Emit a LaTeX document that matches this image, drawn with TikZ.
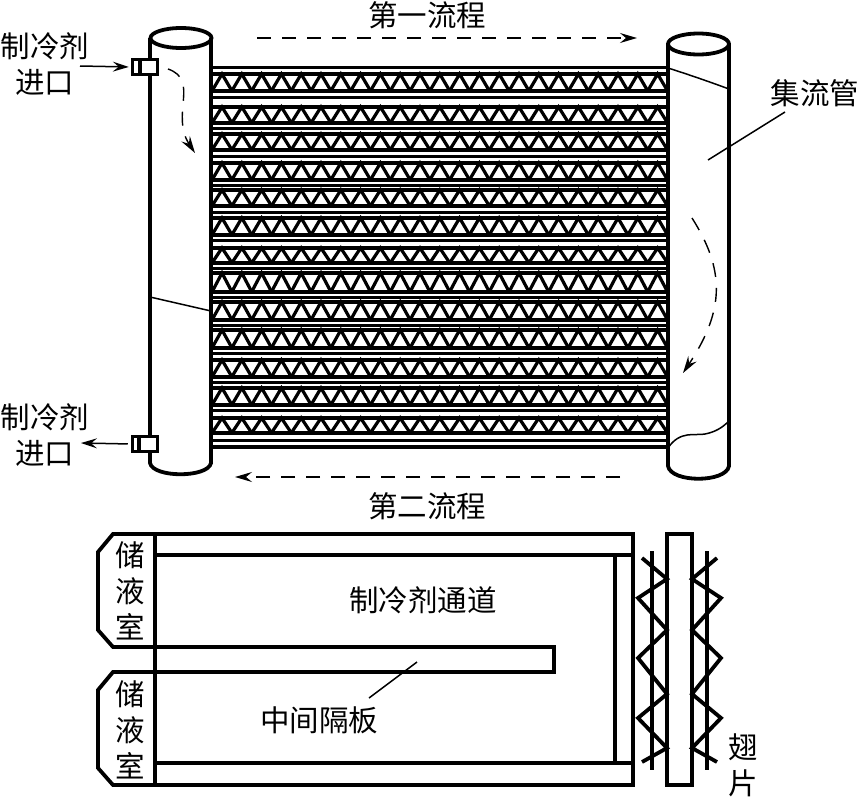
\documentclass[tikz,border=0pt]{standalone}
\usepackage{fontspec}
\setmainfont{Noto Sans CJK SC}
\usepackage{tikz}
\usetikzlibrary{arrows.meta,positioning,calc}

\begin{document}
\begin{tikzpicture}[x=1pt,y=-1pt,
    every node/.style={font=\fontsize{29.5}{36}\selectfont,align=center,inner sep=0pt},
    wall/.style={line width=3.8pt},
    tube/.style={line width=4.4pt},
    thinline/.style={line width=1.5pt},
    flow/.style={line width=1.4pt,dash pattern=on 14pt off 11pt,-{Stealth[length=17pt,width=10pt,inset=6pt]}},
    lead/.style={line width=1.5pt,-{Stealth[length=16pt,width=10pt,inset=6pt]}},
    clip/.style={draw,line width=3.5pt,fill=white,minimum width=25pt,minimum height=15pt}]
    \useasboundingbox (0,0) rectangle (859,798);
    \foreach \ftop/\fbot/\fline in {74/91/97,107/123/128,134/150/156,163/180/185,190/206/212,218/235/240,248/263/268,273/292/297,302/320/325,330/348/353,360/377/382,388/405/410,418/433/440}{
      \draw[tube] (211,\ftop)--(668,\ftop);
      \draw[tube] (211,\fbot)--(668,\fbot);
      \draw[line width=3pt] (211,\fline)--(668,\fline);
      \foreach \k in {0,...,22}{
        \draw[line width=3.2pt,line join=miter] ({212+19.8*\k},\fbot)--({222+19.8*\k},\ftop)--({232+19.8*\k},\fbot);
      }
    }
    \draw[line width=3pt] (211,67)--(668,67);
    \draw[tube] (211,447)--(668,447);
    \draw[wall] (150,38)--(150,463) .. controls (153,478) and (208,478) .. (211,463)--(211,38);
    \draw[wall] (181,38) ellipse [x radius=30.5pt,y radius=10pt];
    \draw[wall] (668,44)--(668,466) .. controls (671,483) and (726,483) .. (729,466)--(729,44);
    \draw[wall] (698.5,44) ellipse [x radius=30.5pt,y radius=10.5pt];
    \draw[thinline] (150,297)--(211,311);
    \draw[thinline] (668,68) .. controls (690,75) and (710,82) .. (729,89);
    \draw[thinline] (668,448) .. controls (680,430) and (695,436) .. (705,434) .. controls (715,432) and (722,428) .. (729,421);
    \node[clip] (clipIn) at (145,67) {};
    \node[clip] (clipOut) at (145,444) {};
    \draw[line width=3.5pt] (140,58)--(140,76);
    \draw[line width=3.5pt] (139,435)--(139,453);
    \node (labelIn) at (45,64) {制冷剂\\进口};
    \node (labelOut) at (45,435) {制冷剂\\进口};
    \coordinate (inFrom) at (80,66);
    \coordinate (outTo) at (81,443);
    \draw[lead,shorten >=2pt] (inFrom)--(clipIn.west);
    \draw[lead,shorten <=3pt] (clipOut.west)--(outTo);
    \node (passOne) at (427,15) {第一流程};
    \node (passTwo) at (427,506) {第二流程};
    \coordinate (passOneA) at (257,38);
    \coordinate (passOneB) at (637,38);
    \coordinate (passTwoA) at (620,477);
    \coordinate (passTwoB) at (235,477);
    \draw[flow] (passOneA)--(passOneB);
    \draw[flow] (passTwoA)--(passTwoB);
    \coordinate (turnA) at (168,69);
    \coordinate (turnB) at (195,153);
    \coordinate (turnC) at (692,218);
    \coordinate (turnD) at (683,373);
    \draw[flow] (turnA) .. controls (200,80) and (170,115) .. (turnB);
    \draw[flow] (turnC) .. controls (725,270) and (725,310) .. (turnD);
    \node (header) at (815,93) {集流管};
    \coordinate (headerTip) at (708,160);
    \draw[thinline] (785,112)--(headerTip);
    \draw[wall] (155,534)--(633,534)--(633,785)--(113,785)--(98,768)--(98,690)--(113,672)--(155,672);
    \draw[wall] (155,534)--(113,534)--(98,552)--(98,630)--(113,647)--(155,647);
    \draw[wall] (155,534)--(155,785);
    \draw[wall] (155,555)--(633,555);
    \draw[wall] (155,763)--(633,763);
    \draw[wall] (615,555)--(615,763);
    \draw[wall] (155,647)--(554,647)--(554,672)--(155,672);
    \node (chamberA) at (130,591) {储\\液\\室};
    \node (chamberB) at (130,730) {储\\液\\室};
    \node (channel) at (423,600) {制冷剂通道};
    \node (baffle) at (319,720) {中间隔板};
    \coordinate (baffleTip) at (417,662);
    \draw[thinline] (369,698)--(baffleTip);
    \draw[wall] (667,534) rectangle (692,785);
    \draw[wall] (652,551)--(652,770);
    \draw[wall] (707,551)--(707,770);
    \draw[wall] (642,558)--(667,579)--(638,598)--(667,630)--(638,658)--(667,694)--(638,718)--(667,748)--(642,762);
    \draw[wall] (717,558)--(692,579)--(721,598)--(692,630)--(721,658)--(692,694)--(721,718)--(692,748)--(717,762);
    \node (fin) at (743,765) {翅\\片};
  \end{tikzpicture}
\end{document}
